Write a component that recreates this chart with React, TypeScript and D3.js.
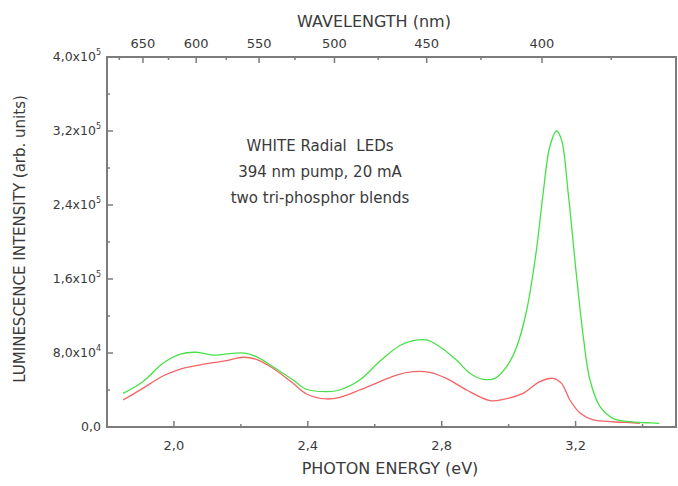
import * as d3 from "d3";
import { useEffect, useRef } from "react";

// photon energy (eV) and intensity (x1000 arb. units)
const GREEN_E = [1.848, 1.907, 1.967, 2.017, 2.067, 2.117, 2.176, 2.216, 2.246, 2.296, 2.356, 2.396, 2.456, 2.495, 2.555, 2.615, 2.675, 2.715, 2.755, 2.794, 2.844, 2.884, 2.924, 2.959, 2.994, 3.024, 3.054, 3.083, 3.103, 3.123, 3.143, 3.158, 3.178, 3.203, 3.223, 3.243, 3.273, 3.312, 3.362, 3.412, 3.45];
const GREEN_V = [36.4, 49.0, 68.9, 78.6, 80.8, 77.8, 79.7, 79.7, 76.0, 65.2, 50.8, 40.8, 38.2, 40.0, 50.8, 71.0, 88.1, 93.3, 94.1, 86.8, 72.4, 58.1, 51.6, 52.6, 65.2, 86.8, 126.5, 191.4, 252.6, 303.0, 320.0, 310.3, 252.6, 162.5, 97.6, 50.8, 22.0, 9.4, 5.7, 4.6, 4.0];

const RED_E = [1.848, 1.907, 1.967, 2.017, 2.067, 2.117, 2.157, 2.206, 2.246, 2.296, 2.356, 2.396, 2.456, 2.495, 2.555, 2.615, 2.665, 2.715, 2.764, 2.814, 2.874, 2.944, 2.984, 3.043, 3.093, 3.133, 3.158, 3.183, 3.214, 3.253, 3.312, 3.372, 3.392];
const RED_V = [29.2, 41.8, 55.1, 62.4, 66.3, 69.5, 71.7, 75.4, 73.2, 63.5, 47.2, 35.7, 30.3, 32.1, 40.0, 49.0, 56.2, 59.8, 59.1, 52.6, 40.0, 28.5, 29.9, 36.4, 49.0, 52.6, 47.2, 29.2, 14.8, 7.6, 5.7, 4.6, 4.0];

const X_MAJOR = [2.0, 2.4, 2.8, 3.2];
const X_LABELS = ["2,0", "2,4", "2,8", "3,2"];
const X_MINOR = [1.8, 2.2, 2.6, 3.0, 3.4];

const Y_MAJOR = [0, 80000, 160000, 240000, 320000, 400000];
const Y_MANT = ["0,0", "8,0x10", "1,6x10", "2,4x10", "3,2x10", "4,0x10"];
const Y_EXP = ["", "4", "5", "5", "5", "5"];
const Y_MINOR = [40000, 120000, 200000, 280000, 360000];

const NM_MAJOR = [650, 600, 550, 500, 450, 400];
const NM_MINOR = [675, 625, 575, 525, 475, 425, 375];

const NOTE = ["WHITE Radial  LEDs", "394 nm pump, 20 mA", "two tri-phosphor blends"];

const FONT = "'DejaVu Sans', Verdana, sans-serif";
const AXIS_COL = "#7c7c7c";
const TEXT_COL = "#3a3a3a";

export default function App() {
  const ref = useRef<SVGSVGElement | null>(null);

  useEffect(() => {
    document.body.style.margin = "0";
    const svg = d3.select(ref.current);
    svg.selectAll("*").remove();

    const x = d3.scaleLinear().domain([1.8, 3.5]).range([107, 676]);
    const y = d3.scaleLinear().domain([0, 400000]).range([427, 57]);
    const [x0, x1] = x.range();
    const [yb, yt] = y.range();
    const toE = (nm: number) => 1239.84 / nm;

    // frame
    svg.append("rect")
      .attr("x", x0).attr("y", yt)
      .attr("width", x1 - x0).attr("height", yb - yt)
      .attr("fill", "none").attr("stroke", AXIS_COL).attr("stroke-width", 2);

    const ticks = svg.append("g").attr("stroke", AXIS_COL).attr("stroke-width", 1.5);
    X_MAJOR.forEach((e) => ticks.append("line").attr("x1", x(e)).attr("x2", x(e)).attr("y1", yb).attr("y2", yb - 6));
    X_MINOR.forEach((e) => ticks.append("line").attr("x1", x(e)).attr("x2", x(e)).attr("y1", yb).attr("y2", yb - 3));
    Y_MAJOR.forEach((v) => ticks.append("line").attr("x1", x0).attr("x2", x0 + 6).attr("y1", y(v)).attr("y2", y(v)));
    Y_MINOR.forEach((v) => ticks.append("line").attr("x1", x0).attr("x2", x0 + 3).attr("y1", y(v)).attr("y2", y(v)));
    NM_MAJOR.forEach((n) => ticks.append("line").attr("x1", x(toE(n))).attr("x2", x(toE(n))).attr("y1", yt).attr("y2", yt + 6));
    NM_MINOR.forEach((n) => ticks.append("line").attr("x1", x(toE(n))).attr("x2", x(toE(n))).attr("y1", yt).attr("y2", yt + 3));

    const txt = svg.append("g").attr("font-family", FONT).attr("fill", TEXT_COL);

    X_MAJOR.forEach((e, i) =>
      txt.append("text").attr("x", x(e)).attr("y", 450).attr("text-anchor", "middle")
        .attr("font-size", 13).text(X_LABELS[i]));

    NM_MAJOR.forEach((n) =>
      txt.append("text").attr("x", x(toE(n))).attr("y", 48).attr("text-anchor", "middle")
        .attr("font-size", 13).text(String(n)));

    Y_MAJOR.forEach((v, i) => {
      const t = txt.append("text").attr("x", 101).attr("y", y(v) + 4).attr("text-anchor", "end")
        .attr("font-size", 12.5);
      t.append("tspan").text(Y_MANT[i]);
      if (Y_EXP[i]) t.append("tspan").attr("font-size", 8).attr("dy", -6).text(Y_EXP[i]);
    });

    txt.append("text").attr("x", 374).attr("y", 27).attr("text-anchor", "middle")
      .attr("font-size", 16).text("WAVELENGTH (nm)");
    txt.append("text").attr("x", 390).attr("y", 474).attr("text-anchor", "middle")
      .attr("font-size", 16).text("PHOTON ENERGY (eV)");
    txt.append("text").attr("transform", "translate(25,239) rotate(-90)").attr("text-anchor", "middle")
      .attr("font-size", 15).text("LUMINESCENCE INTENSITY (arb. units)");

    NOTE.forEach((s, i) =>
      txt.append("text").attr("x", 320).attr("y", 151 + i * 26).attr("text-anchor", "middle")
        .style("white-space", "pre").attr("font-size", 15).text(s));

    const line = d3.line<[number, number]>()
      .x((d) => x(d[0]))
      .y((d) => y(d[1] * 1000))
      .curve(d3.curveCatmullRom.alpha(0.5));

    svg.append("path")
      .datum(RED_E.map((e, i) => [e, RED_V[i]] as [number, number]))
      .attr("d", line).attr("fill", "none").attr("stroke", "#f46464").attr("stroke-width", 1.3);
    svg.append("path")
      .datum(GREEN_E.map((e, i) => [e, GREEN_V[i]] as [number, number]))
      .attr("d", line).attr("fill", "none").attr("stroke", "#48e048").attr("stroke-width", 1.3);
  }, []);

  return <svg ref={ref} width={678} height={486} style={{ display: "block", background: "#fff" }} />;
}
